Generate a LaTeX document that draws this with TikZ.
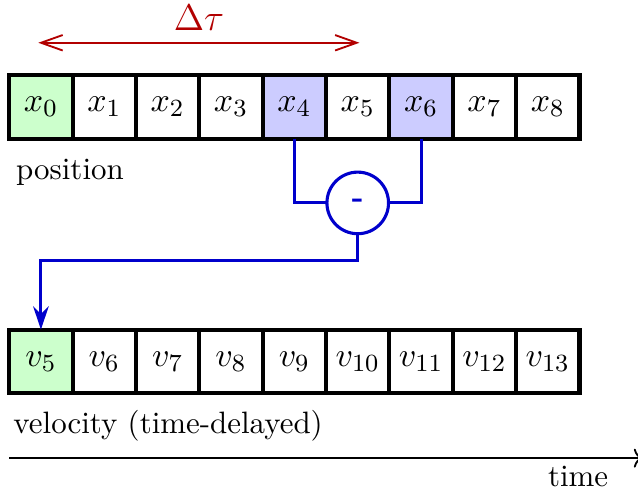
\documentclass[tikz,border=0pt]{standalone}
\usepackage{amsmath}
\usepackage{tikz}
\usetikzlibrary{positioning, arrows.meta, calc}

\begin{document}
\begin{tikzpicture}[
	% --- Styles ---
	cell/.style={
		rectangle, draw, line width=1.3pt, outer sep=0pt, inner sep=0pt,
		minimum size=0.72cm, align=center, font=\fontsize{11}{13}\selectfont
	},
	diffnode/.style={
		circle, draw=blue!80!black, line width=1pt, fill=white, outer sep=0pt, inner sep=0pt,
		minimum size=0.7cm, text=blue!80!black
	},
	conn/.style={
		draw=blue!80!black, line width=1pt
	},
	delay/.style={
		draw=red!70!black, semithick, {Straight Barb[length=7pt,width=5pt]}-{Straight Barb[length=7pt,width=5pt]}
	},
	caption/.style={
		inner sep=3.33pt, align=left
	}
	]
	
	\useasboundingbox (-0.465,-4.341) rectangle (6.785,1.216);
	
	% --- 1. Position row ---
	\node [cell, fill=green!20] (x0) at (0,0) {$x_{0}$};
	\foreach \i/\c in {1/white, 2/white, 3/white, 4/blue!20, 5/white, 6/blue!20, 7/white, 8/white} {
		\pgfmathtruncatemacro{\prev}{\i-1}
		\node [cell, fill=\c, right=0pt of x\prev] (x\i) {$x_{\i}$};
	}
	\node [caption, below right=0.11cm and -0.045cm of x0.south west] (poslabel) {position};
	
	% --- 2. Time lag between x0 and x5 ---
	\coordinate (lag_start) at ($(x0.north)+(-0.03,0.37)$);
	\coordinate (lag_end) at ($(x5.north)+(0.02,0.37)$);
	\draw [delay] (lag_start) -- (lag_end);
	\node [above=0.02cm of $(lag_start)!0.5!(lag_end)$, text=red!70!black, font=\large] (lag) {$\Delta\tau$};
	
	% --- 3. Difference x6 - x4 ---
	\node [diffnode, below=0.38cm of x5] (diff) {\raisebox{-0.4pt}{\textbf{-}}};
	\draw [conn] (x4.south) |- (diff.west);
	\draw [conn] (x6.south) |- (diff.east);
	
	% --- 4. Velocity row (shifted by the lag) ---
	\node [cell, fill=green!20, below=2.17cm of x0] (v5) {$v_{5}$};
	\foreach \i in {6,...,13} {
		\pgfmathtruncatemacro{\prev}{\i-1}
		\node [cell, fill=white, right=0pt of v\prev] (v\i) {$v_{\i}$};
	}
	\node [caption, below right=0.07cm and -0.076cm of v5.south west] (vellabel) {velocity (time-delayed)};
	
	% Result goes to v5
	\draw [conn, -{Stealth[length=7.5pt,width=5pt]}] (diff.south) -- ++(0,-0.3) -| (v5.north);
	
	% --- 5. Time axis ---
	\coordinate (t_start) at ($(x0.west)+(0,-3.99)$);
	\coordinate (t_end) at ($(t_start)+(7.2,0)$);
	\draw [semithick, ->] (t_start) -- (t_end);
	\node [below left=-0.03cm and 0.27cm of t_end] (timelabel) {time};
	
\end{tikzpicture}
\end{document}
